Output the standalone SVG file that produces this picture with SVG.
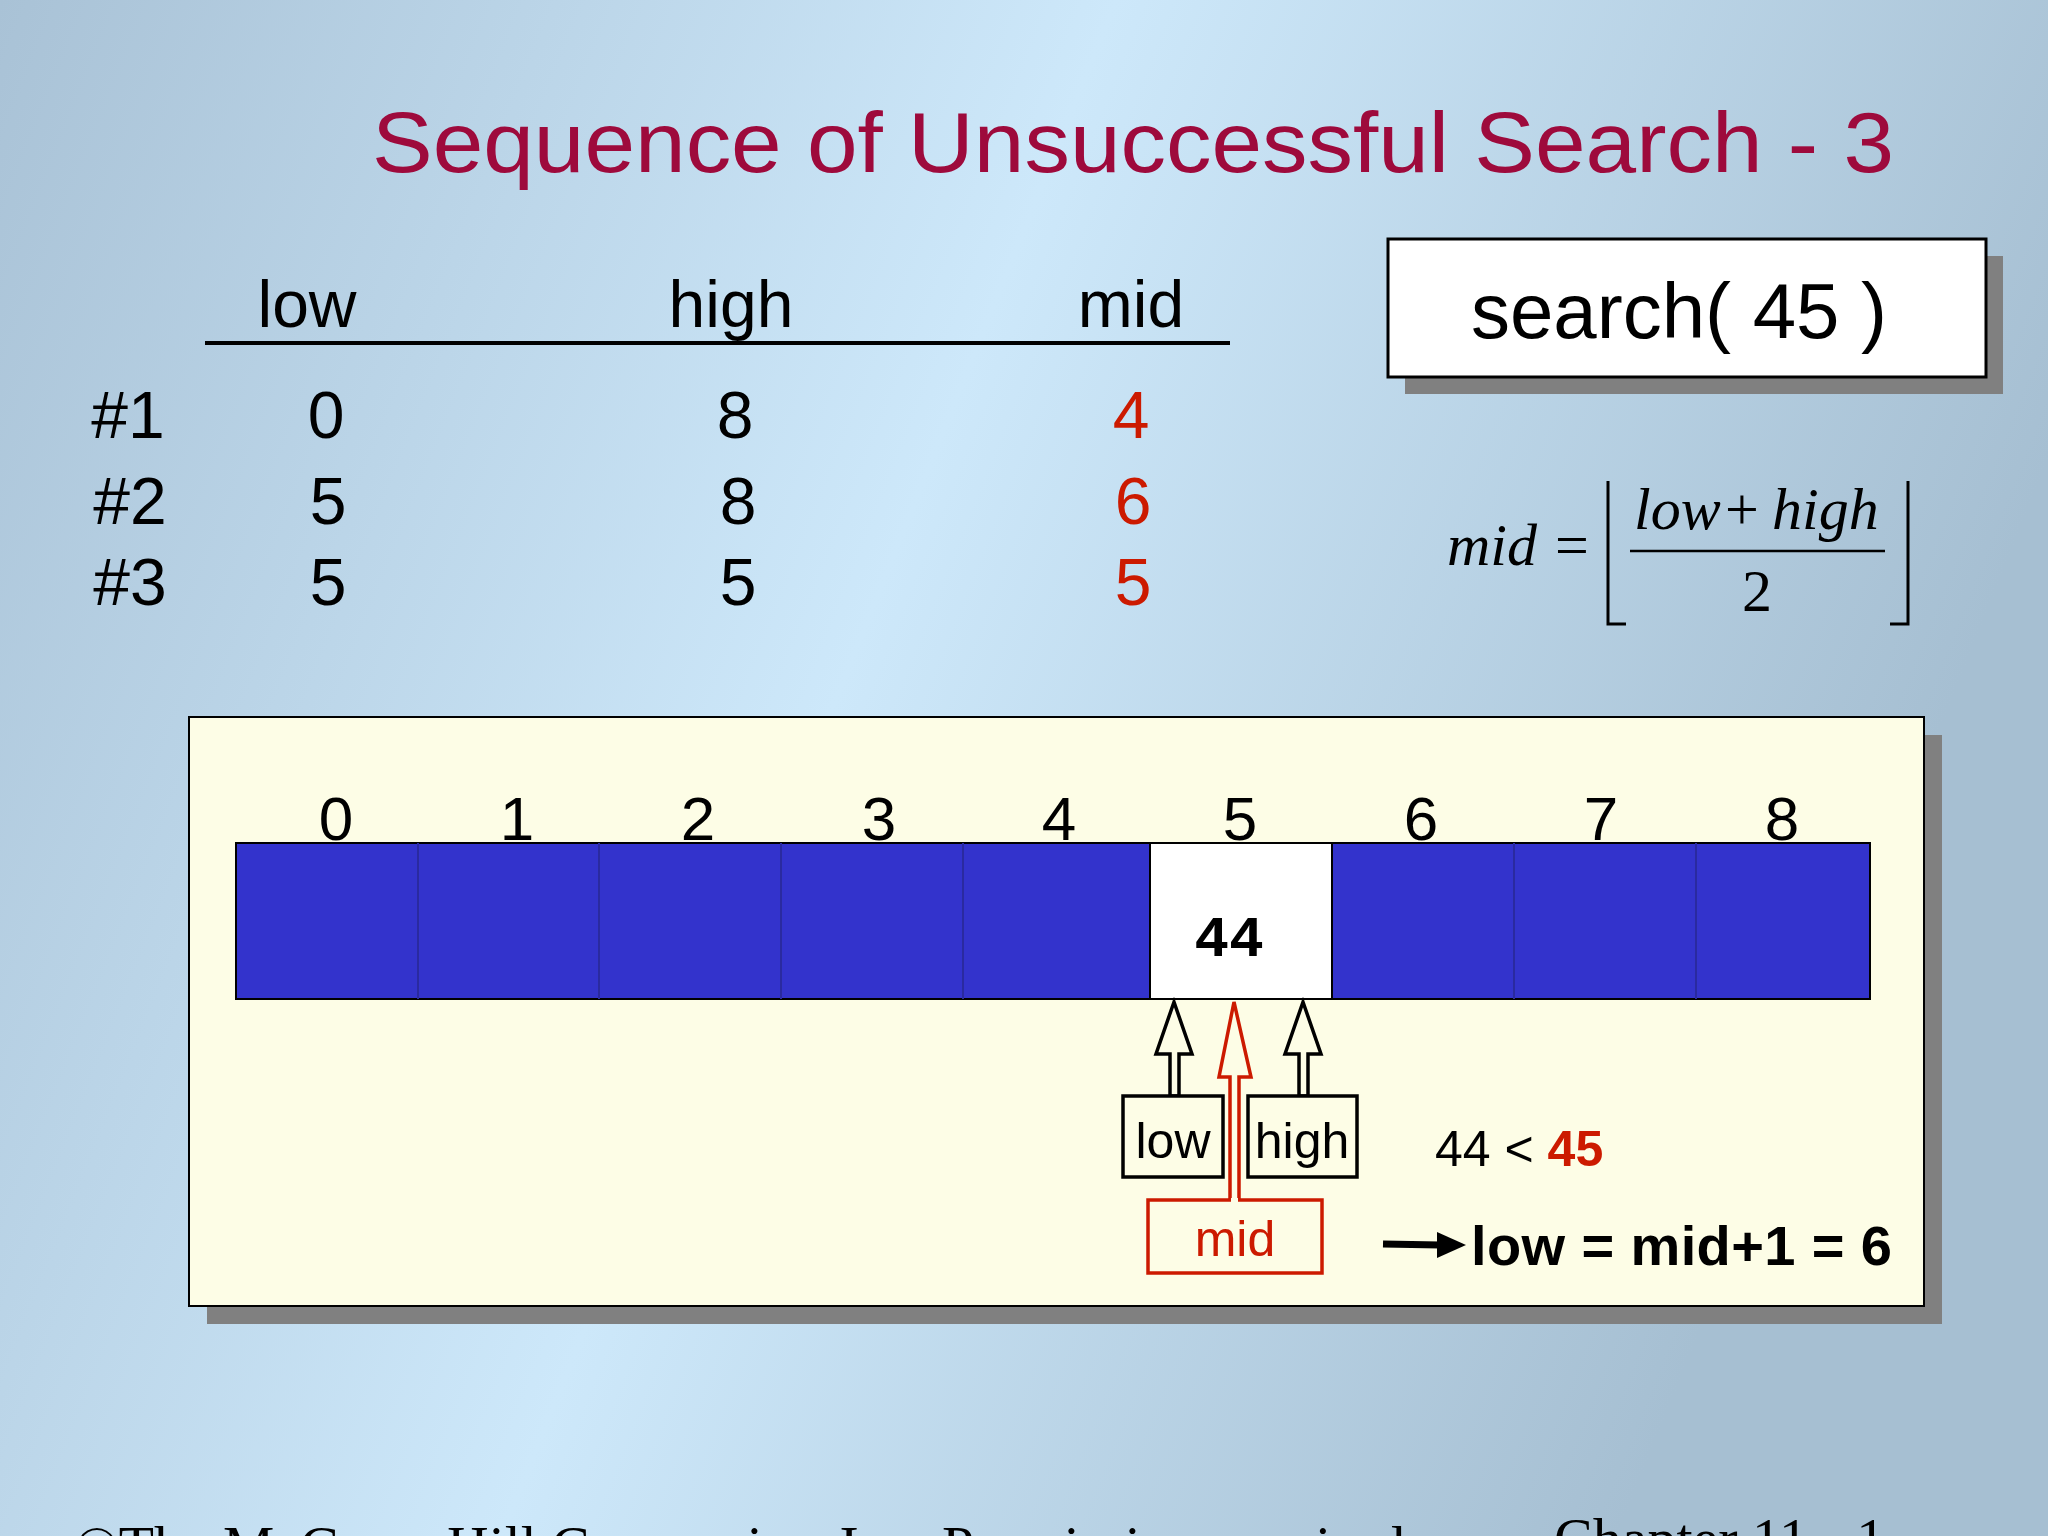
<svg xmlns="http://www.w3.org/2000/svg" width="2048" height="1536" viewBox="0 0 2048 1536">
<defs>
<linearGradient id="bg" x1="0" y1="0" x2="1" y2="0.3">
<stop offset="0" stop-color="#a9c2d6"/>
<stop offset="0.5" stop-color="#cde8fa"/>
<stop offset="1" stop-color="#a6bfd2"/>
</linearGradient>
<style>
.s{font-family:"Liberation Sans",Arial,sans-serif;fill:#000}
.h{font-size:66px;text-anchor:middle}
.r{fill:#cc1a00}
.it{font-family:"Liberation Serif","Times New Roman",serif;font-style:italic;font-size:60px}
.up{font-family:"Liberation Serif","Times New Roman",serif;font-size:60px}
.idx{font-size:62px;text-anchor:middle}
.arr{fill:#fdfde6;stroke:#000;stroke-width:3.5}
.box{fill:#fdfde6;stroke:#000;stroke-width:3.5}
.lbl{font-size:50px;text-anchor:middle}
.ft{font-family:"Liberation Serif","Times New Roman",serif;font-size:58px;fill:#000}
</style>
</defs>
<rect width="2048" height="1536" fill="url(#bg)"/>
<text class="s" x="372" y="172" font-size="86" style="fill:#9e0a3c" textLength="1522" lengthAdjust="spacingAndGlyphs">Sequence of Unsuccessful Search - 3</text>

<g id="table">
<text class="s h" x="307" y="327">low</text>
<text class="s h" x="731" y="327">high</text>
<text class="s h" x="1131" y="327">mid</text>
<line x1="205" y1="343" x2="1230" y2="343" stroke="#000" stroke-width="4"/>
<text class="s h" x="128" y="438">#1</text>
<text class="s h" x="326" y="438">0</text>
<text class="s h" x="735" y="438">8</text>
<text class="s h r" x="1131" y="438">4</text>
<text class="s h" x="130" y="524">#2</text>
<text class="s h" x="328" y="524">5</text>
<text class="s h" x="738" y="524">8</text>
<text class="s h r" x="1133" y="524">6</text>
<text class="s h" x="130" y="605">#3</text>
<text class="s h" x="328" y="605">5</text>
<text class="s h" x="738" y="605">5</text>
<text class="s h r" x="1133" y="605">5</text>
</g>

<g id="search">
<rect x="1405" y="256" width="598" height="138" fill="#808080"/>
<rect x="1388" y="239" width="598" height="138" fill="#fff" stroke="#000" stroke-width="3"/>
<text class="s" x="1679" y="338" font-size="78" text-anchor="middle">search( 45 )</text>
</g>

<g id="formula">
<text class="it" x="1447" y="565">mid</text>
<text class="up" x="1555" y="565">=</text>
<text class="it" x="1634" y="529">low</text>
<text class="up" x="1725" y="529">+</text>
<text class="it" x="1772" y="529">high</text>
<line x1="1630" y1="551" x2="1885" y2="551" stroke="#000" stroke-width="2.5"/>
<text class="up" x="1757" y="611" text-anchor="middle">2</text>
<polyline points="1608,481 1608,624 1626,624" fill="none" stroke="#000" stroke-width="3"/>
<polyline points="1908,481 1908,624 1890,624" fill="none" stroke="#000" stroke-width="3"/>
</g>

<g id="panel">
<rect x="207" y="735" width="1735" height="589" fill="#808080"/>
<rect x="189" y="717" width="1735" height="589" fill="#fdfde6" stroke="#000" stroke-width="2"/>
</g>

<g id="array">
<rect x="236" y="843" width="1634" height="156" fill="#3333cc" stroke="#000" stroke-width="2"/>
<rect x="1150" y="843" width="182" height="156" fill="#fff" stroke="#000" stroke-width="2"/>
<g stroke="#2a2aa0" stroke-width="2">
<line x1="418" y1="843" x2="418" y2="999"/><line x1="599" y1="843" x2="599" y2="999"/>
<line x1="781" y1="843" x2="781" y2="999"/><line x1="963" y1="843" x2="963" y2="999"/>
<line x1="1514" y1="843" x2="1514" y2="999"/><line x1="1696" y1="843" x2="1696" y2="999"/>
</g>
<text class="s idx" x="336" y="840">0</text>
<text class="s idx" x="517" y="840">1</text>
<text class="s idx" x="698" y="840">2</text>
<text class="s idx" x="879" y="840">3</text>
<text class="s idx" x="1059" y="840">4</text>
<text class="s idx" x="1240" y="840">5</text>
<text class="s idx" x="1421" y="840">6</text>
<text class="s idx" x="1601" y="840">7</text>
<text class="s idx" x="1782" y="840">8</text>
<text x="1229" y="956" font-family="Liberation Mono,Courier New,monospace" font-weight="bold" font-size="58" text-anchor="middle">44</text>
</g>

<g id="pointers">
<polygon class="arr" points="1174,1002 1192,1054 1179,1054 1179,1096 1170,1096 1170,1054 1156,1054"/>
<rect class="box" x="1123" y="1096" width="100" height="81"/>
<text class="s lbl" x="1173" y="1158">low</text>
<polygon class="arr" points="1303,1002 1321,1054 1308,1054 1308,1096 1299,1096 1299,1054 1285,1054"/>
<rect class="box" x="1248" y="1096" width="109" height="81"/>
<text class="s lbl" x="1302" y="1158">high</text>
<polygon points="1234,1002 1251,1077 1239,1077 1239,1200 1230,1200 1230,1077 1219,1077" fill="#fdfde6" stroke="#cc1a00" stroke-width="3.5"/>
<rect x="1148" y="1200" width="174" height="73" fill="#fdfde6" stroke="#cc1a00" stroke-width="3.5"/>
<line x1="1231" y1="1200" x2="1238" y2="1200" stroke="#fdfde6" stroke-width="4"/>
<text class="s lbl r" x="1235" y="1256">mid</text>
</g>

<g id="result">
<text class="s" x="1435" y="1166" font-size="50">44 &lt; <tspan class="r" font-weight="bold">45</tspan></text>
<line x1="1383" y1="1244" x2="1440" y2="1245" stroke="#000" stroke-width="7"/>
<polygon points="1437,1232 1466,1245 1437,1258" fill="#000"/>
<text class="s" x="1471" y="1265" font-size="56" font-weight="bold" textLength="421">low = mid+1 = 6</text>
</g>

<text class="ft" x="75" y="1566" textLength="1330" lengthAdjust="spacingAndGlyphs">©The McGraw-Hill Companies, Inc. Permission required</text>
<text class="ft" x="1554" y="1558">Chapter 11 - 1</text>
</svg>
